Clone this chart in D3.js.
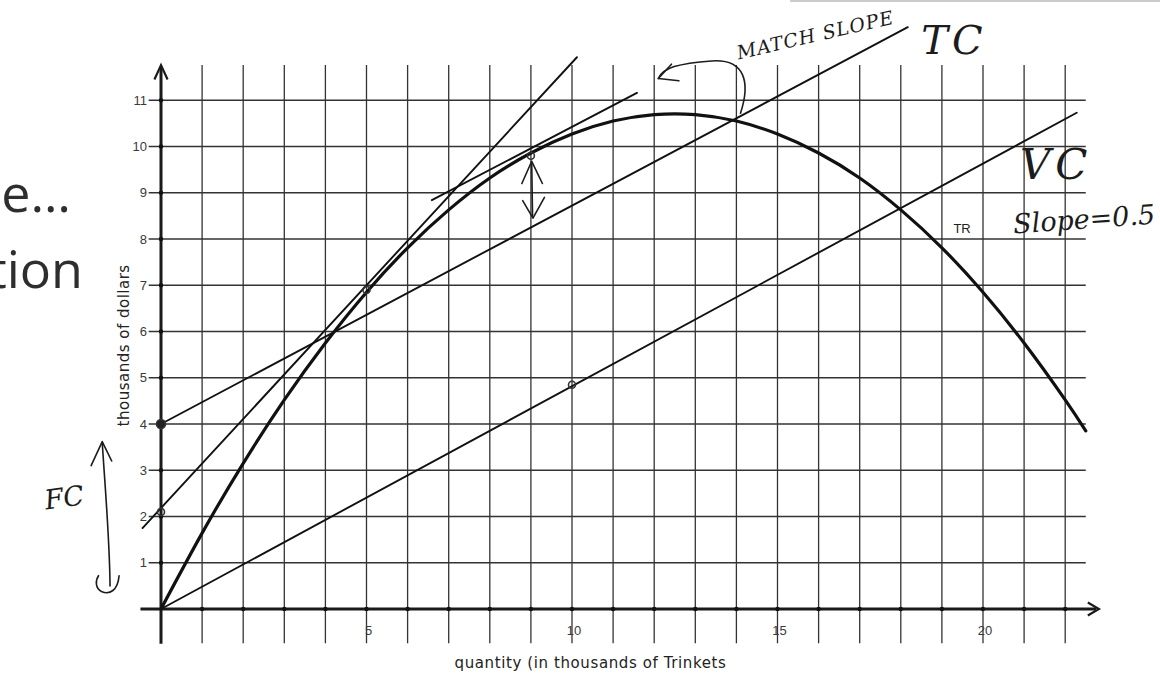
<!doctype html>
<html lang="en">
<head>
<meta charset="utf-8">
<script src="https://d3js.org/d3.v7.min.js"></script>
<style>
  body { margin: 0; background: #fff; }
  svg { display: block; }
</style>
</head>
<body>
<svg id="chart"></svg>
<script>
// ---- data (thousands of trinkets / thousands of dollars) ----
const trQty = [0, 1, 2, 3, 4, 5, 6, 7, 8, 9, 10, 11, 12, 13, 14, 15, 16, 17, 18, 19, 20, 21, 22, 22.5];
const trRevenue = [0, 1.64, 3.15, 4.52, 5.75, 6.85, 7.81, 8.63, 9.32, 9.86, 10.27, 10.55, 10.69, 10.69,
                   10.55, 10.27, 9.86, 9.32, 8.63, 7.81, 6.85, 5.75, 4.52, 3.85];
const tcLine = [[0, 4], [18.17, 12.58]];
const vcLine = [[0, 0], [22.28, 10.73]];
const tangentSteep = [[-0.45, 1.75], [10.12, 11.93]];
const tangentMatch = [[6.59, 8.84], [11.58, 11.16]];
const markedPoints = [[0, 4, true], [0, 2.1, false], [5, 6.9, false], [9, 9.8, false], [10, 4.85, false]];
const xTickLabels = [5, 10, 15, 20];
const yTickLabels = [1, 2, 3, 4, 5, 6, 7, 8, 9, 10, 11];
const gridX = d3.range(1, 23);
const gridY = d3.range(1, 12);

const width = 1160, height = 673;
const svg = d3.select("#chart").attr("width", width).attr("height", height);
svg.append("rect").attr("width", width).attr("height", height).attr("fill", "#fff");

const x = d3.scaleLinear().domain([0, 22.5]).range([161, 1085.75]);
const y = d3.scaleLinear().domain([0, 11]).range([609, 100.25]);

// faint scan edge at the top right
svg.append("line").attr("x1", 790).attr("x2", 1160).attr("y1", 1).attr("y2", 1)
  .attr("stroke", "#ccc").attr("stroke-width", 2);

// slide text cut off on the left
const slide = svg.append("g").attr("font-family", "'Open Sans', Lato, sans-serif")
  .attr("fill", "#2e2e2e").attr("font-size", 52).attr("text-anchor", "end");
slide.append("text").attr("x", 71).attr("y", 212).text("e…");
slide.append("text").attr("x", 83).attr("y", 288).text("tion");

// grid
const grid = svg.append("g").attr("stroke", "#333").attr("stroke-width", 1.3);
grid.selectAll(".vx").data(gridX).join("line")
  .attr("x1", d => x(d)).attr("x2", d => x(d))
  .attr("y1", y(11.76)).attr("y2", y(-0.74));
grid.selectAll(".hy").data(gridY).join("line")
  .attr("x1", x(-0.3)).attr("x2", x(22.5))
  .attr("y1", d => y(d)).attr("y2", d => y(d));

// axes
const axes = svg.append("g").attr("stroke", "#1a1a1a").attr("stroke-width", 3).attr("fill", "none");
axes.append("line").attr("x1", x(-0.5)).attr("x2", x(22.75)).attr("y1", y(0)).attr("y2", y(0));
axes.append("line").attr("x1", x(0)).attr("x2", x(0)).attr("y1", y(-0.75)).attr("y2", y(11.72));
axes.append("path").attr("stroke-width", 2.2)
  .attr("d", `M${x(22.55)},${y(0.14)} L${x(22.82)},${y(0)} L${x(22.55)},${y(-0.14)}`);
axes.append("path").attr("stroke-width", 2.2)
  .attr("d", `M${x(-0.16)},${y(11.45)} L${x(0)},${y(11.76)} L${x(0.16)},${y(11.45)}`);

// tick dots on the axes
svg.append("g").selectAll("circle").data(gridY).join("circle")
  .attr("cx", x(0)).attr("cy", d => y(d)).attr("r", 2.2).attr("fill", "#111");
svg.append("g").selectAll("circle").data(gridX).join("circle")
  .attr("cx", d => x(d)).attr("cy", y(0)).attr("r", 2.2).attr("fill", "#111");

// tick labels
const tickFont = "'Liberation Sans', Arial, sans-serif";
svg.append("g").selectAll("text").data(yTickLabels).join("text")
  .attr("x", x(0) - 14).attr("y", d => y(d) + 4.5)
  .attr("text-anchor", "end").attr("font-family", tickFont).attr("font-size", 13).attr("fill", "#3a3a3a")
  .text(d => d);
svg.append("g").selectAll("text").data(xTickLabels).join("text")
  .attr("x", d => x(d) + 2).attr("y", y(-0.57))
  .attr("text-anchor", "middle").attr("font-family", tickFont).attr("font-size", 13).attr("fill", "#3a3a3a")
  .text(d => d);

// axis titles
svg.append("text").attr("x", x(10.45)).attr("y", 668).attr("text-anchor", "middle")
  .attr("font-family", "'DejaVu Sans', sans-serif").attr("font-size", 15).attr("letter-spacing", 0.6)
  .attr("fill", "#222").text("quantity (in thousands of Trinkets");
svg.append("text").attr("transform", `translate(129,${y(5.7)}) rotate(-90)`).attr("text-anchor", "middle")
  .attr("font-family", "'DejaVu Sans', sans-serif").attr("font-size", 15).attr("letter-spacing", 0.5)
  .attr("fill", "#222").text("thousands of dollars");

// lines
const line = d3.line().x(d => x(d[0])).y(d => y(d[1]));
const lines = svg.append("g").attr("fill", "none").attr("stroke", "#111").attr("stroke-linecap", "round");
[vcLine, tcLine, tangentSteep, tangentMatch].forEach(seg => {
  lines.append("path").datum(seg).attr("d", line).attr("stroke-width", 1.9);
});
const trLine = d3.line().x((d, i) => x(trQty[i])).y(d => y(d)).curve(d3.curveNatural);
lines.append("path").datum(trRevenue).attr("d", trLine).attr("stroke-width", 3.2);

svg.append("text").attr("x", x(19.28)).attr("y", y(8.12)).attr("font-family", tickFont)
  .attr("font-size", 13).attr("fill", "#222").text("TR");

// marked points
svg.append("g").selectAll("circle").data(markedPoints).join("circle")
  .attr("cx", d => x(d[0])).attr("cy", d => y(d[1]))
  .attr("r", d => d[2] ? 4.5 : 3.5)
  .attr("fill", d => d[2] ? "#222" : "none").attr("stroke", "#333").attr("stroke-width", 1.6);

// handwritten annotations
const pen = svg.append("g").attr("fill", "none").attr("stroke", "#1c1c1c").attr("stroke-width", 1.6)
  .attr("stroke-linecap", "round").attr("stroke-linejoin", "round");
// double arrow between TR and TC at q = 9
pen.append("path").attr("d", `M${x(9.02)},${y(9.62)} L${x(9.04)},${y(8.5)}`);
pen.append("path").attr("d", `M${x(8.78)},${y(9.2)} L${x(9.02)},${y(9.68)} L${x(9.28)},${y(9.2)}`);
pen.append("path").attr("d", `M${x(8.8)},${y(8.83)} L${x(9.05)},${y(8.45)} L${x(9.33)},${y(8.9)}`);
// curved arrow from the TC line toward the matching tangent
pen.append("path").attr("d",
  `M${x(14.1)},${y(10.72)} C${x(14.35)},${y(11.4)} ${x(14.2)},${y(11.9)} ${x(13.4)},${y(11.85)} ` +
  `C${x(12.6)},${y(11.8)} ${x(12.2)},${y(11.7)} ${x(12.1)},${y(11.47)}`);
pen.append("path").attr("d", `M${x(12.42)},${y(11.78)} L${x(12.1)},${y(11.47)} L${x(12.6)},${y(11.42)}`);
// FC arrow
pen.append("path").attr("d", `M${x(-1.43)},${y(3.6)} C${x(-1.35)},${y(2.5)} ${x(-1.25)},${y(1.5)} ${x(-1.24)},${y(0.5)}`);
pen.append("path").attr("d", `M${x(-1.7)},${y(3.1)} L${x(-1.43)},${y(3.62)} L${x(-1.2)},${y(3.2)}`);
pen.append("path").attr("d", `M${x(-1.02)},${y(0.72)} C${x(-1.05)},${y(0.4)} ${x(-1.25)},${y(0.3)} ${x(-1.45)},${y(0.38)} C${x(-1.6)},${y(0.45)} ${x(-1.6)},${y(0.62)} ${x(-1.52)},${y(0.72)}`);

const hand = svg.append("g").attr("font-family", "'DejaVu Serif', serif").attr("font-style", "italic")
  .attr("fill", "#1c1c1c");
hand.append("text").attr("transform", `translate(${x(14.05)},${y(11.88)}) rotate(-13)`)
  .attr("font-size", 19).attr("letter-spacing", 1).text("MATCH SLOPE");
hand.append("text").attr("x", x(18.5)).attr("y", y(12.0)).attr("font-size", 40)
  .attr("letter-spacing", 4).text("TC");
hand.append("text").attr("x", x(20.9)).attr("y", y(9.3)).attr("font-size", 42)
  .attr("letter-spacing", 5).text("VC");
hand.append("text").attr("transform", `translate(${x(20.75)},${y(8.12)}) rotate(-4)`)
  .attr("font-size", 27).text("Slope=0.5");
hand.append("text").attr("transform", `translate(${x(-2.8)},${y(2.15)}) rotate(-8)`)
  .attr("font-size", 27).text("FC");
</script>
</body>
</html>
